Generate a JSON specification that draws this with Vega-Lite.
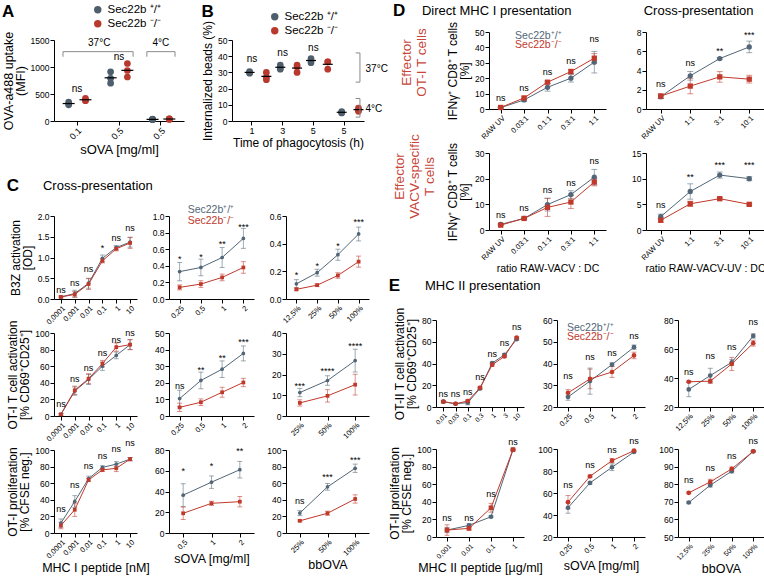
{
"$schema": "https://vega.github.io/schema/vega-lite/v6.json",
"padding": {"left": 2, "top": 2, "right": 0, "bottom": 0},
"config": {
 "font": "Liberation Sans",
 "view": {"stroke": null},
 "axis": {"domainColor": "#000", "tickColor": "#000", "tickSize": 4, "labelColor": "#000", "labelFontSize": 8.5, "labelPadding": 1, "titleColor": "#000", "titleFontSize": 12, "titleFontWeight": "normal", "titlePadding": 3, "titleLineHeight": 12, "grid": false},
 "axisX": {"labelAngle": -45, "labelFontSize": 7.5, "titleFontSize": 12.5, "titlePadding": 2},
 "title": {"fontSize": 17, "fontWeight": "bold", "anchor": "start", "offset": 6, "color": "#000", "subtitleFontSize": 13, "subtitleColor": "#000", "subtitlePadding": -15},
 "text": {"fontSize": 9}
},
"datasets": {
 "A": [
  {"d":"a","s":"WT","v":350},{"d":"a","s":"WT","v":320},{"d":"a","s":"WT","v":300},
  {"d":"a","s":"KO","v":420},{"d":"a","s":"KO","v":385},{"d":"a","s":"KO","v":375},
  {"d":"b","s":"WT","v":700},{"d":"b","s":"WT","v":910},{"d":"b","s":"WT","v":790},
  {"d":"b","s":"KO","v":1065},{"d":"b","s":"KO","v":815},{"d":"b","s":"KO","v":935},
  {"d":"c","s":"WT","v":25},{"d":"c","s":"WT","v":30},{"d":"c","s":"WT","v":35},
  {"d":"c","s":"KO","v":30},{"d":"c","s":"KO","v":38},{"d":"c","s":"KO","v":42}
 ],
 "AT": [
  {"d":"a","v":590,"t":"ns","k":"n"},{"d":"b","v":1190,"t":"ns","k":"n"},
  {"d":"a","v":1440,"t":"37°C","k":"L"},{"d":"c","v":1440,"t":"4°C","k":"n"}
 ],
 "AB": [
  {"l":"a","r":"b","v":1284,"v2":1190},{"l":"c","r":"c","v":1284,"v2":1190}
 ],
 "B": [
  {"d":"1","s":"WT","v":29.5},{"d":"1","s":"WT","v":30},{"d":"1","s":"WT","v":30.5},
  {"d":"1","s":"KO","v":25.5},{"d":"1","s":"KO","v":30},{"d":"1","s":"KO","v":27},
  {"d":"3","s":"WT","v":34.5},{"d":"3","s":"WT","v":32},{"d":"3","s":"WT","v":33},
  {"d":"3","s":"KO","v":30},{"d":"3","s":"KO","v":34.5},{"d":"3","s":"KO","v":33.5},
  {"d":"5","s":"WT","v":38.5},{"d":"5","s":"WT","v":36},{"d":"5","s":"WT","v":37.5},
  {"d":"5","s":"KO","v":32},{"d":"5","s":"KO","v":36.5},{"d":"5","s":"KO","v":36.5},
  {"d":"5b","s":"WT","v":5},{"d":"5b","s":"WT","v":5.8},{"d":"5b","s":"WT","v":5.3},
  {"d":"5b","s":"KO","v":6},{"d":"5b","s":"KO","v":7},{"d":"5b","s":"KO","v":8}
 ],
 "BT": [
  {"d":"1","v":38.2,"t":"ns"},{"d":"3","v":41.8,"t":"ns"},{"d":"5","v":44.9,"t":"ns"}
 ],
 "BB": [
  {"d":"5b","v":42,"v2":24,"lv":32,"t":"37°C"},{"d":"5b","v":13.9,"v2":2.4,"lv":7.5,"t":"4°C"}
 ],
 "L": [
  {"p":"C11","s":"WT","x":"0,0001","v":0.05,"e":0.02},{"p":"C11","s":"WT","x":"0,001","v":0.13,"e":0.08},{"p":"C11","s":"WT","x":"0,01","v":0.38,"e":0.12},{"p":"C11","s":"WT","x":"0,1","v":0.98,"e":0.08},{"p":"C11","s":"WT","x":"1","v":1.24,"e":0.05},{"p":"C11","s":"WT","x":"10","v":1.37,"e":0.12},
  {"p":"C11","s":"KO","x":"0,0001","v":0.05,"e":0.02},{"p":"C11","s":"KO","x":"0,001","v":0.11,"e":0.07},{"p":"C11","s":"KO","x":"0,01","v":0.36,"e":0.13},{"p":"C11","s":"KO","x":"0,1","v":0.92,"e":0.05},{"p":"C11","s":"KO","x":"1","v":1.21,"e":0.05},{"p":"C11","s":"KO","x":"10","v":1.35,"e":0.13},
  {"p":"C12","s":"WT","x":"0,25","v":0.33,"e":0.11},{"p":"C12","s":"WT","x":"0,5","v":0.38,"e":0.1},{"p":"C12","s":"WT","x":"1","v":0.5,"e":0.12},{"p":"C12","s":"WT","x":"2","v":0.73,"e":0.12},
  {"p":"C12","s":"KO","x":"0,25","v":0.14,"e":0.03},{"p":"C12","s":"KO","x":"0,5","v":0.18,"e":0.04},{"p":"C12","s":"KO","x":"1","v":0.26,"e":0.04},{"p":"C12","s":"KO","x":"2","v":0.38,"e":0.07},
  {"p":"C13","s":"WT","x":"12,5%","v":0.11,"e":0.03},{"p":"C13","s":"WT","x":"25%","v":0.19,"e":0.025},{"p":"C13","s":"WT","x":"50%","v":0.32,"e":0.04},{"p":"C13","s":"WT","x":"100%","v":0.47,"e":0.05},
  {"p":"C13","s":"KO","x":"12,5%","v":0.07,"e":0.01},{"p":"C13","s":"KO","x":"25%","v":0.1,"e":0.01},{"p":"C13","s":"KO","x":"50%","v":0.17,"e":0.02},{"p":"C13","s":"KO","x":"100%","v":0.27,"e":0.04},
  {"p":"C21","s":"WT","x":"0,0001","v":2,"e":1},{"p":"C21","s":"WT","x":"0,001","v":30,"e":5},{"p":"C21","s":"WT","x":"0,01","v":44,"e":6},{"p":"C21","s":"WT","x":"0,1","v":60,"e":5},{"p":"C21","s":"WT","x":"1","v":73,"e":4},{"p":"C21","s":"WT","x":"10","v":86,"e":6},
  {"p":"C21","s":"KO","x":"0,0001","v":2,"e":1},{"p":"C21","s":"KO","x":"0,001","v":31,"e":5},{"p":"C21","s":"KO","x":"0,01","v":45,"e":6},{"p":"C21","s":"KO","x":"0,1","v":63,"e":4},{"p":"C21","s":"KO","x":"1","v":83,"e":5},{"p":"C21","s":"KO","x":"10","v":86,"e":6},
  {"p":"C22","s":"WT","x":"0,25","v":10.5,"e":5},{"p":"C22","s":"WT","x":"0,5","v":21.4,"e":5},{"p":"C22","s":"WT","x":"1","v":28.2,"e":5},{"p":"C22","s":"WT","x":"2","v":37.7,"e":4.5},
  {"p":"C22","s":"KO","x":"0,25","v":5.2,"e":2.5},{"p":"C22","s":"KO","x":"0,5","v":8.3,"e":2},{"p":"C22","s":"KO","x":"1","v":14.3,"e":3},{"p":"C22","s":"KO","x":"2","v":20.2,"e":2.5},
  {"p":"C23","s":"WT","x":"25%","v":11.3,"e":2},{"p":"C23","s":"WT","x":"50%","v":17.1,"e":2.3},{"p":"C23","s":"WT","x":"100%","v":26.7,"e":5.5},
  {"p":"C23","s":"KO","x":"25%","v":6.3,"e":1.5},{"p":"C23","s":"KO","x":"50%","v":9.7,"e":3},{"p":"C23","s":"KO","x":"100%","v":15.1,"e":5},
  {"p":"C31","s":"WT","x":"0,0001","v":12,"e":5},{"p":"C31","s":"WT","x":"0,001","v":38,"e":7},{"p":"C31","s":"WT","x":"0,01","v":65.5,"e":3},{"p":"C31","s":"WT","x":"0,1","v":79,"e":2},{"p":"C31","s":"WT","x":"1","v":83,"e":3},{"p":"C31","s":"WT","x":"10","v":89,"e":2},
  {"p":"C31","s":"KO","x":"0,0001","v":9,"e":4},{"p":"C31","s":"KO","x":"0,001","v":28,"e":8},{"p":"C31","s":"KO","x":"0,01","v":64,"e":2},{"p":"C31","s":"KO","x":"0,1","v":76,"e":2},{"p":"C31","s":"KO","x":"1","v":78,"e":4},{"p":"C31","s":"KO","x":"10","v":89,"e":2},
  {"p":"C32","s":"WT","x":"0,5","v":36.5,"e":11},{"p":"C32","s":"WT","x":"1","v":49,"e":6},{"p":"C32","s":"WT","x":"2","v":61,"e":8},
  {"p":"C32","s":"KO","x":"0,5","v":19,"e":6},{"p":"C32","s":"KO","x":"1","v":28.6,"e":2},{"p":"C32","s":"KO","x":"2","v":30.2,"e":5},
  {"p":"C33","s":"WT","x":"25%","v":24,"e":3},{"p":"C33","s":"WT","x":"50%","v":55.6,"e":4},{"p":"C33","s":"WT","x":"100%","v":78,"e":5},
  {"p":"C33","s":"KO","x":"25%","v":14.7,"e":1},{"p":"C33","s":"KO","x":"50%","v":23.8,"e":2.5},{"p":"C33","s":"KO","x":"100%","v":41,"e":5},
  {"p":"D11","s":"WT","x":"RAW UV","v":0.9,"e":0.3},{"p":"D11","s":"WT","x":"0.03:1","v":5.9,"e":1},{"p":"D11","s":"WT","x":"0.1:1","v":14.1,"e":2.5},{"p":"D11","s":"WT","x":"0.3:1","v":20,"e":2.5},{"p":"D11","s":"WT","x":"1:1","v":30.4,"e":7},
  {"p":"D11","s":"KO","x":"RAW UV","v":1,"e":0.3},{"p":"D11","s":"KO","x":"0.03:1","v":7.2,"e":0.7},{"p":"D11","s":"KO","x":"0.1:1","v":17.4,"e":0.7},{"p":"D11","s":"KO","x":"0.3:1","v":24.3,"e":1.5},{"p":"D11","s":"KO","x":"1:1","v":33,"e":3},
  {"p":"D12","s":"WT","x":"RAW UV","v":1.28,"e":0.2},{"p":"D12","s":"WT","x":"1:1","v":3.45,"e":0.45},{"p":"D12","s":"WT","x":"3:1","v":5.24,"e":0.1},{"p":"D12","s":"WT","x":"10:1","v":6.45,"e":0.6},
  {"p":"D12","s":"KO","x":"RAW UV","v":1.34,"e":0.25},{"p":"D12","s":"KO","x":"1:1","v":2.38,"e":0.8},{"p":"D12","s":"KO","x":"3:1","v":3.34,"e":0.55},{"p":"D12","s":"KO","x":"10:1","v":3.1,"e":0.4},
  {"p":"D21","s":"WT","x":"RAW UV","v":2.2,"e":0.3},{"p":"D21","s":"WT","x":"0.03:1","v":4.5,"e":0.3},{"p":"D21","s":"WT","x":"0.1:1","v":9.9,"e":2.5},{"p":"D21","s":"WT","x":"0.3:1","v":13.8,"e":1.5},{"p":"D21","s":"WT","x":"1:1","v":20.6,"e":3},
  {"p":"D21","s":"KO","x":"RAW UV","v":1.9,"e":0.3},{"p":"D21","s":"KO","x":"0.03:1","v":4.5,"e":0.3},{"p":"D21","s":"KO","x":"0.1:1","v":8.8,"e":3.5},{"p":"D21","s":"KO","x":"0.3:1","v":10.9,"e":2.5},{"p":"D21","s":"KO","x":"1:1","v":18.7,"e":1.5},
  {"p":"D22","s":"WT","x":"RAW UV","v":2.6,"e":0.5},{"p":"D22","s":"WT","x":"1:1","v":7.5,"e":1.5},{"p":"D22","s":"WT","x":"3:1","v":10.7,"e":0.6},{"p":"D22","s":"WT","x":"10:1","v":10,"e":0.4},
  {"p":"D22","s":"KO","x":"RAW UV","v":1.9,"e":0.4},{"p":"D22","s":"KO","x":"1:1","v":5.1,"e":0.5},{"p":"D22","s":"KO","x":"3:1","v":6.1,"e":0.2},{"p":"D22","s":"KO","x":"10:1","v":5,"e":0.2},
  {"p":"E11","s":"WT","x":"0,01","v":4.9,"e":1},{"p":"E11","s":"WT","x":"0,03","v":3,"e":0.5},{"p":"E11","s":"WT","x":"0,1","v":4,"e":2},{"p":"E11","s":"WT","x":"0,3","v":17,"e":1},{"p":"E11","s":"WT","x":"1","v":40.4,"e":1},{"p":"E11","s":"WT","x":"3","v":48,"e":1},{"p":"E11","s":"WT","x":"10","v":62.3,"e":1},
  {"p":"E11","s":"KO","x":"0,01","v":4.9,"e":1},{"p":"E11","s":"KO","x":"0,03","v":3,"e":0.5},{"p":"E11","s":"KO","x":"0,1","v":5.5,"e":1.5},{"p":"E11","s":"KO","x":"0,3","v":17.6,"e":1.5},{"p":"E11","s":"KO","x":"1","v":38.9,"e":1.5},{"p":"E11","s":"KO","x":"3","v":46.5,"e":1},{"p":"E11","s":"KO","x":"10","v":63.8,"e":1},
  {"p":"E12","s":"WT","x":"0,25","v":24.6,"e":1.5},{"p":"E12","s":"WT","x":"0,5","v":31.9,"e":6},{"p":"E12","s":"WT","x":"1","v":39.5,"e":0.8},{"p":"E12","s":"WT","x":"2","v":47.5,"e":1},
  {"p":"E12","s":"KO","x":"0,25","v":26.5,"e":1.5},{"p":"E12","s":"KO","x":"0,5","v":32.9,"e":4.5},{"p":"E12","s":"KO","x":"1","v":36.1,"e":2.5},{"p":"E12","s":"KO","x":"2","v":43.7,"e":1.5},
  {"p":"E13","s":"WT","x":"12,5%","v":32.1,"e":5},{"p":"E13","s":"WT","x":"25%","v":41.7,"e":5},{"p":"E13","s":"WT","x":"50%","v":50.8,"e":2},{"p":"E13","s":"WT","x":"100%","v":69,"e":1.5},
  {"p":"E13","s":"KO","x":"12,5%","v":37.4,"e":0.5},{"p":"E13","s":"KO","x":"25%","v":37.8,"e":1.5},{"p":"E13","s":"KO","x":"50%","v":49.7,"e":4.5},{"p":"E13","s":"KO","x":"100%","v":64,"e":2},
  {"p":"E21","s":"WT","x":"0,001","v":7.9,"e":3},{"p":"E21","s":"WT","x":"0,01","v":13.2,"e":2},{"p":"E21","s":"WT","x":"0,1","v":23,"e":1},{"p":"E21","s":"WT","x":"1","v":99.2,"e":0.5},
  {"p":"E21","s":"KO","x":"0,001","v":7.9,"e":6},{"p":"E21","s":"KO","x":"0,01","v":9.8,"e":2},{"p":"E21","s":"KO","x":"0,1","v":33.2,"e":5},{"p":"E21","s":"KO","x":"1","v":99.2,"e":0.5},
  {"p":"E22","s":"WT","x":"0,25","v":46.6,"e":5},{"p":"E22","s":"WT","x":"0,5","v":69.2,"e":1},{"p":"E22","s":"WT","x":"1","v":83.4,"e":3},{"p":"E22","s":"WT","x":"2","v":97.3,"e":0.5},
  {"p":"E22","s":"KO","x":"0,25","v":51.7,"e":6},{"p":"E22","s":"KO","x":"0,5","v":75.2,"e":1},{"p":"E22","s":"KO","x":"1","v":89.4,"e":2},{"p":"E22","s":"KO","x":"2","v":98.5,"e":0.5},
  {"p":"E23","s":"WT","x":"12,5%","v":69.6,"e":0.5},{"p":"E23","s":"WT","x":"25%","v":79.4,"e":1},{"p":"E23","s":"WT","x":"50%","v":87.4,"e":1},{"p":"E23","s":"WT","x":"100%","v":98.7,"e":0.5},
  {"p":"E23","s":"KO","x":"12,5%","v":75.1,"e":0.5},{"p":"E23","s":"KO","x":"25%","v":81.3,"e":1.5},{"p":"E23","s":"KO","x":"50%","v":88.7,"e":1},{"p":"E23","s":"KO","x":"100%","v":98.7,"e":0.5}
 ],
 "T": [
  {"p":"C11","x":"0,0001","v":0.22,"t":"ns"},{"p":"C11","x":"0,001","v":0.38,"t":"ns"},{"p":"C11","x":"0,01","v":0.72,"t":"ns"},{"p":"C11","x":"0,1","v":1.22,"t":"*"},{"p":"C11","x":"1","v":1.47,"t":"ns"},{"p":"C11","x":"10","v":1.72,"t":"ns"},
  {"p":"C12","x":"0,25","v":0.48,"t":"*"},{"p":"C12","x":"0,5","v":0.51,"t":"*"},{"p":"C12","x":"1","v":0.66,"t":"**"},{"p":"C12","x":"2","v":0.87,"t":"***"},
  {"p":"C13","x":"12,5%","v":0.17,"t":"*"},{"p":"C13","x":"25%","v":0.24,"t":"*"},{"p":"C13","x":"50%","v":0.38,"t":"*"},{"p":"C13","x":"100%","v":0.56,"t":"***"},
  {"p":"C21","x":"0,0001","v":15,"t":"ns"},{"p":"C21","x":"0,001","v":44,"t":"ns"},{"p":"C21","x":"0,01","v":57.5,"t":"ns"},{"p":"C21","x":"0,1","v":76,"t":"ns"},{"p":"C21","x":"1","v":92,"t":"ns"},{"p":"C21","x":"10","v":100,"t":"ns"},
  {"p":"C22","x":"0,25","v":18.3,"t":"ns"},{"p":"C22","x":"0,5","v":28,"t":"**"},{"p":"C22","x":"1","v":35,"t":"**"},{"p":"C22","x":"2","v":44.5,"t":"***"},
  {"p":"C23","x":"25%","v":14.6,"t":"***"},{"p":"C23","x":"50%","v":21.6,"t":"****"},{"p":"C23","x":"100%","v":33.6,"t":"****"},
  {"p":"C31","x":"0,0001","v":28.6,"t":"ns"},{"p":"C31","x":"0,001","v":57.5,"t":"ns"},{"p":"C31","x":"0,01","v":81,"t":"ns"},{"p":"C31","x":"0,1","v":93,"t":"ns"},{"p":"C31","x":"1","v":101,"t":"ns"},{"p":"C31","x":"10","v":109,"t":"ns"},
  {"p":"C32","x":"0,5","v":60,"t":"*"},{"p":"C32","x":"1","v":65,"t":"*"},{"p":"C32","x":"2","v":79,"t":"**"},
  {"p":"C33","x":"25%","v":38.5,"t":"ns"},{"p":"C33","x":"50%","v":67,"t":"***"},{"p":"C33","x":"100%","v":88,"t":"***"},
  {"p":"D11","x":"RAW UV","v":7,"t":"ns"},{"p":"D11","x":"0.03:1","v":13.5,"t":"ns"},{"p":"D11","x":"0.1:1","v":23.9,"t":"ns"},{"p":"D11","x":"0.3:1","v":31,"t":"ns"},{"p":"D11","x":"1:1","v":45.2,"t":"ns"},
  {"p":"D12","x":"RAW UV","v":2.55,"t":"ns"},{"p":"D12","x":"1:1","v":4.8,"t":"ns"},{"p":"D12","x":"3:1","v":6.05,"t":"**"},{"p":"D12","x":"10:1","v":7.65,"t":"***"},
  {"p":"D21","x":"RAW UV","v":6,"t":"ns"},{"p":"D21","x":"0.03:1","v":8.4,"t":"ns"},{"p":"D21","x":"0.1:1","v":15.7,"t":"ns"},{"p":"D21","x":"0.3:1","v":18.3,"t":"ns"},{"p":"D21","x":"1:1","v":26.7,"t":"ns"},
  {"p":"D22","x":"RAW UV","v":4.8,"t":"ns"},{"p":"D22","x":"1:1","v":10.3,"t":"**"},{"p":"D22","x":"3:1","v":12.6,"t":"***"},{"p":"D22","x":"10:1","v":12.6,"t":"***"},
  {"p":"E11","x":"0,01","v":12,"t":"ns"},{"p":"E11","x":"0,03","v":12,"t":"ns"},{"p":"E11","x":"0,1","v":14,"t":"ns"},{"p":"E11","x":"0,3","v":27.4,"t":"ns"},{"p":"E11","x":"1","v":48.6,"t":"ns"},{"p":"E11","x":"3","v":58.7,"t":"ns"},{"p":"E11","x":"10","v":74,"t":"ns"},
  {"p":"E12","x":"0,25","v":34.1,"t":"ns"},{"p":"E12","x":"0,5","v":42.8,"t":"ns"},{"p":"E12","x":"1","v":44.8,"t":"ns"},{"p":"E12","x":"2","v":52.7,"t":"ns"},
  {"p":"E13","x":"12,5%","v":44,"t":"ns"},{"p":"E13","x":"25%","v":55.5,"t":"ns"},{"p":"E13","x":"50%","v":61.3,"t":"ns"},{"p":"E13","x":"100%","v":78.4,"t":"ns"},
  {"p":"E21","x":"0,001","v":21.9,"t":"ns"},{"p":"E21","x":"0,01","v":21.9,"t":"ns"},{"p":"E21","x":"0,1","v":48.3,"t":"ns"},{"p":"E21","x":"1","v":107.5,"t":"ns"},
  {"p":"E22","x":"0,25","v":67.7,"t":"ns"},{"p":"E22","x":"0,5","v":85.8,"t":"ns"},{"p":"E22","x":"1","v":99.4,"t":"ns"},{"p":"E22","x":"2","v":107.5,"t":"ns"},
  {"p":"E23","x":"12,5%","v":82.6,"t":"ns"},{"p":"E23","x":"25%","v":89.2,"t":"ns"},{"p":"E23","x":"50%","v":95.8,"t":"ns"},{"p":"E23","x":"100%","v":104.7,"t":"ns"}
 ],
 "G": [
  {"p":"C12","x":"0,25","v":1.07,"s":"WT","t":"Sec22b⁺/⁺"},{"p":"C12","x":"0,25","v":0.94,"s":"KO","t":"Sec22b⁻/⁻"},
  {"p":"D11","x":"0.03:1","v":47.4,"s":"WT","t":"Sec22b⁺/⁺"},{"p":"D11","x":"0.03:1","v":41.7,"s":"KO","t":"Sec22b⁻/⁻"},
  {"p":"E12","x":"0,25","v":56.3,"s":"WT","t":"Sec22b⁺/⁺"},{"p":"E12","x":"0,25","v":52.4,"s":"KO","t":"Sec22b⁻/⁻"}
 ],
 "Z": [{"z": 0}]
},
"resolve": {"scale": {"color": "independent", "shape": "independent"}, "legend": {"color": "independent", "shape": "independent"}},
"columns": 2, "align": "none", "spacing": 0,
"concat": [
 {"resolve": {"scale": {"color": "independent", "shape": "independent"}, "legend": {"color": "independent", "shape": "independent"}},
  "columns": 1, "align": "none", "spacing": 20,
  "concat": [
   {"resolve": {"scale": {"color": "independent", "shape": "independent"}, "legend": {"color": "independent", "shape": "independent"}},
    "bounds": "flush", "columns": 2, "spacing": {"row": 7, "column": 48},
    "concat": [
     {"width": 130, "height": 1, "data": {"name": "Z"}, "mark": {"type": "text", "text": ""}, "encoding": {}},
     {"width": 132, "height": 1, "data": {"name": "Z"}, "mark": {"type": "text", "text": ""}, "encoding": {}},
     {"width": 130, "height": 81,
      "title": {"text": "A", "dy": 17, "offset": 0},
      "encoding": {
       "x": {"field": "d", "type": "nominal", "scale": {"domain": ["a","b","c"], "paddingInner": 0.2, "paddingOuter": 0.15}, "axis": {"title": "sOVA [mg/ml]", "titleFontSize": 13, "labelFontSize": 9, "labelExpr": "datum.value == 'a' ? '0.1' : '0.5'"}},
       "y": {"field": "v", "type": "quantitative", "scale": {"domain": [0,1500], "nice": false}, "axis": {"title": ["OVA-a488 uptake","(MFI)"], "values": [0,500,1000,1500], "format": "d", "titleFontSize": 12.5}}
      },
      "layer": [
       {"data": {"name": "AB"}, "mark": {"type": "rule", "color": "#8a8a8a"}, "encoding": {"x": {"field": "l", "type": "nominal", "bandPosition": 0.08}, "x2": {"field": "r", "bandPosition": 0.92}}},
       {"data": {"name": "AB"}, "mark": {"type": "rule", "color": "#8a8a8a"}, "encoding": {"x": {"field": "l", "type": "nominal", "bandPosition": 0.08}, "y2": {"field": "v2"}}},
       {"data": {"name": "AB"}, "mark": {"type": "rule", "color": "#8a8a8a"}, "encoding": {"x": {"field": "r", "type": "nominal", "bandPosition": 0.92}, "y2": {"field": "v2"}}},
       {"data": {"name": "A"}, "mark": {"type": "point", "filled": true, "opacity": 1, "size": 45},
        "encoding": {"xOffset": {"field": "s", "type": "nominal", "scale": {"domain": ["WT","KO"]}},
         "color": {"field": "s", "type": "nominal", "scale": {"domain": ["WT","KO"], "range": ["#4e5e6c","#b83a2f"]},
          "legend": {"title": null, "orient": "none", "legendX": 38, "legendY": -36, "direction": "vertical", "symbolType": "circle", "symbolSize": 55, "labelFontSize": 11.5, "rowPadding": 1, "padding": 0, "labelExpr": "datum.value == 'WT' ? 'Sec22b ⁺/⁺' : 'Sec22b ⁻/⁻'"}}}},
       {"data": {"name": "A"}, "mark": {"type": "tick", "color": "#000", "size": 12, "thickness": 1.2},
        "encoding": {"xOffset": {"field": "s", "type": "nominal", "scale": {"domain": ["WT","KO"]}}, "y": {"aggregate": "mean", "field": "v", "type": "quantitative"}}},
       {"data": {"name": "AT"}, "transform": [{"filter": "datum.k == 'n'"}], "mark": {"type": "text", "fontSize": 10}, "encoding": {"text": {"field": "t"}}},
       {"data": {"name": "AT"}, "transform": [{"filter": "datum.k == 'L'"}], "mark": {"type": "text", "fontSize": 10}, "encoding": {"x": {"field": "d", "type": "nominal", "bandPosition": 1.16}, "text": {"field": "t"}}}
      ]
     },
     {"width": 132, "height": 81,
      "title": {"text": "B", "dy": 10, "offset": 0},
      "encoding": {
       "x": {"field": "d", "type": "nominal", "scale": {"domain": ["1","3","5","5b"], "paddingInner": 0.3, "paddingOuter": 0.3}, "axis": {"title": "Time of phagocytosis (h)", "titleFontSize": 12, "labelAngle": 0, "labelFontSize": 9, "labelExpr": "datum.value == '5b' ? '5' : datum.value"}},
       "y": {"field": "v", "type": "quantitative", "scale": {"domain": [0,50], "nice": false}, "axis": {"title": "Internalized beads (%)", "values": [0,10,20,30,40,50]}}
      },
      "layer": [
       {"data": {"name": "B"}, "mark": {"type": "point", "filled": true, "opacity": 1, "size": 45},
        "encoding": {"xOffset": {"field": "s", "type": "nominal", "scale": {"domain": ["WT","KO"]}},
         "color": {"field": "s", "type": "nominal", "scale": {"domain": ["WT","KO"], "range": ["#4e5e6c","#b83a2f"]},
          "legend": {"title": null, "orient": "none", "legendX": 37, "legendY": -29, "direction": "vertical", "symbolType": "circle", "symbolSize": 55, "labelFontSize": 11.5, "rowPadding": 1, "padding": 0, "labelExpr": "datum.value == 'WT' ? 'Sec22b ⁺/⁺' : 'Sec22b ⁻/⁻'"}}}},
       {"data": {"name": "B"}, "mark": {"type": "tick", "color": "#000", "size": 10, "thickness": 1.2},
        "encoding": {"xOffset": {"field": "s", "type": "nominal", "scale": {"domain": ["WT","KO"]}}, "y": {"aggregate": "mean", "field": "v", "type": "quantitative"}}},
       {"data": {"name": "BT"}, "mark": {"type": "text", "fontSize": 10}, "encoding": {"text": {"field": "t"}}},
       {"data": {"name": "BB"}, "mark": {"type": "rule", "color": "#8a8a8a"}, "encoding": {"x": {"field": "d", "type": "nominal", "bandPosition": 1.24}, "y2": {"field": "v2"}}},
       {"data": {"name": "BB"}, "mark": {"type": "rule", "color": "#8a8a8a"}, "encoding": {"x": {"field": "d", "type": "nominal", "bandPosition": 1.04}, "x2": {"field": "d", "bandPosition": 1.24}}},
       {"data": {"name": "BB"}, "mark": {"type": "rule", "color": "#8a8a8a"}, "encoding": {"x": {"field": "d", "type": "nominal", "bandPosition": 1.04}, "x2": {"field": "d", "bandPosition": 1.24}, "y": {"field": "v2", "type": "quantitative"}}},
       {"data": {"name": "BB"}, "mark": {"type": "text", "align": "left", "fontSize": 10}, "encoding": {"x": {"field": "d", "type": "nominal", "bandPosition": 1.5}, "y": {"field": "lv", "type": "quantitative"}, "text": {"field": "t"}}}
      ]
     }
    ]
   },
   {"resolve": {"scale": {"color": "independent", "shape": "independent"}, "legend": {"color": "independent", "shape": "independent"}},
    "bounds": "flush", "columns": 3, "spacing": {"row": 34, "column": 32},
    "title": {"text": "C", "subtitle": "\u200b\u00a0\u00a0\u00a0\u00a0\u00a0\u00a0\u00a0\u00a0\u00a0\u00a0Cross-presentation", "offset": 10},
    "concat": [
     {"width": 83, "height": 83,
      "encoding": {"x": {"field": "x", "type": "ordinal", "sort": ["0,0001","0,001","0,01","0,1","1","10"], "scale": {"type": "point", "domain": ["0,0001","0,001","0,01","0,1","1","10"], "padding": 0.5}, "axis": {"title": null}},
       "y": {"field": "v", "type": "quantitative", "scale": {"domain": [0,2], "nice": false, "zero": false}, "axis": {"title": ["B3Z activation","[OD]"], "values": [0,0.5,1,1.5,2], "format": ".1f"}}},
      "layer": [
       {"data": {"name": "L"}, "transform": [{"filter": "datum.p == 'C11'"}], "mark": {"type": "errorbar", "ticks": {"size": 5}, "thickness": 1, "opacity": 0.55}, "encoding": {"yError": {"field": "e"}, "color": {"field": "s", "type": "nominal", "scale": {"domain": ["WT","KO"], "range": ["#526677","#c0392b"]}, "legend": null}}},
       {"data": {"name": "L"}, "transform": [{"filter": "datum.p == 'C11'"}], "mark": {"type": "line", "strokeWidth": 1}, "encoding": {"color": {"field": "s", "type": "nominal", "legend": null}}},
       {"data": {"name": "L"}, "transform": [{"filter": "datum.p == 'C11'"}], "mark": {"type": "point", "filled": true, "opacity": 1, "size": 14}, "encoding": {"color": {"field": "s", "type": "nominal", "legend": null}, "shape": {"field": "s", "type": "nominal", "scale": {"domain": ["WT","KO"], "range": ["circle","square"]}, "legend": null}}},
       {"data": {"name": "T"}, "transform": [{"filter": "datum.p == 'C11'"}], "mark": {"type": "text"}, "encoding": {"text": {"field": "t"}}}
      ]},
     {"width": 85, "height": 83,
      "encoding": {"x": {"field": "x", "type": "ordinal", "sort": ["0,25","0,5","1","2"], "scale": {"type": "point", "domain": ["0,25","0,5","1","2"], "padding": 0.5}, "axis": {"title": null}},
       "y": {"field": "v", "type": "quantitative", "scale": {"domain": [0,1], "nice": false, "zero": false}, "axis": {"title": null, "values": [0,0.2,0.4,0.6,0.8,1], "format": ".1f"}}},
      "layer": [
       {"data": {"name": "L"}, "transform": [{"filter": "datum.p == 'C12'"}], "mark": {"type": "errorbar", "ticks": {"size": 5}, "thickness": 1, "opacity": 0.55}, "encoding": {"yError": {"field": "e"}, "color": {"field": "s", "type": "nominal", "scale": {"domain": ["WT","KO"], "range": ["#526677","#c0392b"]}, "legend": null}}},
       {"data": {"name": "L"}, "transform": [{"filter": "datum.p == 'C12'"}], "mark": {"type": "line", "strokeWidth": 1}, "encoding": {"color": {"field": "s", "type": "nominal", "legend": null}}},
       {"data": {"name": "L"}, "transform": [{"filter": "datum.p == 'C12'"}], "mark": {"type": "point", "filled": true, "opacity": 1, "size": 14}, "encoding": {"color": {"field": "s", "type": "nominal", "legend": null}, "shape": {"field": "s", "type": "nominal", "scale": {"domain": ["WT","KO"], "range": ["circle","square"]}, "legend": null}}},
       {"data": {"name": "T"}, "transform": [{"filter": "datum.p == 'C12'"}], "mark": {"type": "text"}, "encoding": {"text": {"field": "t"}}},
       {"data": {"name": "G"}, "transform": [{"filter": "datum.p == 'C12'"}], "mark": {"type": "text", "align": "left", "dx": 8, "fontSize": 10.5}, "encoding": {"text": {"field": "t"}, "color": {"field": "s", "type": "nominal", "legend": null}}}
      ]},
     {"width": 83, "height": 83,
      "encoding": {"x": {"field": "x", "type": "ordinal", "sort": ["12,5%","25%","50%","100%"], "scale": {"type": "point", "domain": ["12,5%","25%","50%","100%"], "padding": 0.5}, "axis": {"title": null}},
       "y": {"field": "v", "type": "quantitative", "scale": {"domain": [0,0.6], "nice": false, "zero": false}, "axis": {"title": null, "values": [0,0.2,0.4,0.6], "format": ".1f"}}},
      "layer": [
       {"data": {"name": "L"}, "transform": [{"filter": "datum.p == 'C13'"}], "mark": {"type": "errorbar", "ticks": {"size": 5}, "thickness": 1, "opacity": 0.55}, "encoding": {"yError": {"field": "e"}, "color": {"field": "s", "type": "nominal", "scale": {"domain": ["WT","KO"], "range": ["#526677","#c0392b"]}, "legend": null}}},
       {"data": {"name": "L"}, "transform": [{"filter": "datum.p == 'C13'"}], "mark": {"type": "line", "strokeWidth": 1}, "encoding": {"color": {"field": "s", "type": "nominal", "legend": null}}},
       {"data": {"name": "L"}, "transform": [{"filter": "datum.p == 'C13'"}], "mark": {"type": "point", "filled": true, "opacity": 1, "size": 14}, "encoding": {"color": {"field": "s", "type": "nominal", "legend": null}, "shape": {"field": "s", "type": "nominal", "scale": {"domain": ["WT","KO"], "range": ["circle","square"]}, "legend": null}}},
       {"data": {"name": "T"}, "transform": [{"filter": "datum.p == 'C13'"}], "mark": {"type": "text"}, "encoding": {"text": {"field": "t"}}}
      ]},
     {"width": 83, "height": 83,
      "encoding": {"x": {"field": "x", "type": "ordinal", "sort": ["0,0001","0,001","0,01","0,1","1","10"], "scale": {"type": "point", "domain": ["0,0001","0,001","0,01","0,1","1","10"], "padding": 0.5}, "axis": {"title": null}},
       "y": {"field": "v", "type": "quantitative", "scale": {"domain": [0,100], "nice": false, "zero": false}, "axis": {"title": ["OT-I T cell activation","[% CD69⁺CD25⁺]"], "values": [0,20,40,60,80,100]}}},
      "layer": [
       {"data": {"name": "L"}, "transform": [{"filter": "datum.p == 'C21'"}], "mark": {"type": "errorbar", "ticks": {"size": 5}, "thickness": 1, "opacity": 0.55}, "encoding": {"yError": {"field": "e"}, "color": {"field": "s", "type": "nominal", "scale": {"domain": ["WT","KO"], "range": ["#526677","#c0392b"]}, "legend": null}}},
       {"data": {"name": "L"}, "transform": [{"filter": "datum.p == 'C21'"}], "mark": {"type": "line", "strokeWidth": 1}, "encoding": {"color": {"field": "s", "type": "nominal", "legend": null}}},
       {"data": {"name": "L"}, "transform": [{"filter": "datum.p == 'C21'"}], "mark": {"type": "point", "filled": true, "opacity": 1, "size": 14}, "encoding": {"color": {"field": "s", "type": "nominal", "legend": null}, "shape": {"field": "s", "type": "nominal", "scale": {"domain": ["WT","KO"], "range": ["circle","square"]}, "legend": null}}},
       {"data": {"name": "T"}, "transform": [{"filter": "datum.p == 'C21'"}], "mark": {"type": "text"}, "encoding": {"text": {"field": "t"}}}
      ]},
     {"width": 85, "height": 83,
      "encoding": {"x": {"field": "x", "type": "ordinal", "sort": ["0,25","0,5","1","2"], "scale": {"type": "point", "domain": ["0,25","0,5","1","2"], "padding": 0.5}, "axis": {"title": null}},
       "y": {"field": "v", "type": "quantitative", "scale": {"domain": [0,50], "nice": false, "zero": false}, "axis": {"title": null, "values": [0,10,20,30,40,50]}}},
      "layer": [
       {"data": {"name": "L"}, "transform": [{"filter": "datum.p == 'C22'"}], "mark": {"type": "errorbar", "ticks": {"size": 5}, "thickness": 1, "opacity": 0.55}, "encoding": {"yError": {"field": "e"}, "color": {"field": "s", "type": "nominal", "scale": {"domain": ["WT","KO"], "range": ["#526677","#c0392b"]}, "legend": null}}},
       {"data": {"name": "L"}, "transform": [{"filter": "datum.p == 'C22'"}], "mark": {"type": "line", "strokeWidth": 1}, "encoding": {"color": {"field": "s", "type": "nominal", "legend": null}}},
       {"data": {"name": "L"}, "transform": [{"filter": "datum.p == 'C22'"}], "mark": {"type": "point", "filled": true, "opacity": 1, "size": 14}, "encoding": {"color": {"field": "s", "type": "nominal", "legend": null}, "shape": {"field": "s", "type": "nominal", "scale": {"domain": ["WT","KO"], "range": ["circle","square"]}, "legend": null}}},
       {"data": {"name": "T"}, "transform": [{"filter": "datum.p == 'C22'"}], "mark": {"type": "text"}, "encoding": {"text": {"field": "t"}}}
      ]},
     {"width": 83, "height": 83,
      "encoding": {"x": {"field": "x", "type": "ordinal", "sort": ["25%","50%","100%"], "scale": {"type": "point", "domain": ["25%","50%","100%"], "padding": 0.5}, "axis": {"title": null}},
       "y": {"field": "v", "type": "quantitative", "scale": {"domain": [0,40], "nice": false, "zero": false}, "axis": {"title": null, "values": [0,10,20,30,40]}}},
      "layer": [
       {"data": {"name": "L"}, "transform": [{"filter": "datum.p == 'C23'"}], "mark": {"type": "errorbar", "ticks": {"size": 5}, "thickness": 1, "opacity": 0.55}, "encoding": {"yError": {"field": "e"}, "color": {"field": "s", "type": "nominal", "scale": {"domain": ["WT","KO"], "range": ["#526677","#c0392b"]}, "legend": null}}},
       {"data": {"name": "L"}, "transform": [{"filter": "datum.p == 'C23'"}], "mark": {"type": "line", "strokeWidth": 1}, "encoding": {"color": {"field": "s", "type": "nominal", "legend": null}}},
       {"data": {"name": "L"}, "transform": [{"filter": "datum.p == 'C23'"}], "mark": {"type": "point", "filled": true, "opacity": 1, "size": 14}, "encoding": {"color": {"field": "s", "type": "nominal", "legend": null}, "shape": {"field": "s", "type": "nominal", "scale": {"domain": ["WT","KO"], "range": ["circle","square"]}, "legend": null}}},
       {"data": {"name": "T"}, "transform": [{"filter": "datum.p == 'C23'"}], "mark": {"type": "text"}, "encoding": {"text": {"field": "t"}}}
      ]},
     {"width": 83, "height": 83,
      "encoding": {"x": {"field": "x", "type": "ordinal", "sort": ["0,0001","0,001","0,01","0,1","1","10"], "scale": {"type": "point", "domain": ["0,0001","0,001","0,01","0,1","1","10"], "padding": 0.5}, "axis": {"title": "MHC I peptide [nM]"}},
       "y": {"field": "v", "type": "quantitative", "scale": {"domain": [0,100], "nice": false, "zero": false}, "axis": {"title": ["OT-I proliferation","[% CFSE neg.]"], "values": [0,20,40,60,80,100]}}},
      "layer": [
       {"data": {"name": "L"}, "transform": [{"filter": "datum.p == 'C31'"}], "mark": {"type": "errorbar", "ticks": {"size": 5}, "thickness": 1, "opacity": 0.55}, "encoding": {"yError": {"field": "e"}, "color": {"field": "s", "type": "nominal", "scale": {"domain": ["WT","KO"], "range": ["#526677","#c0392b"]}, "legend": null}}},
       {"data": {"name": "L"}, "transform": [{"filter": "datum.p == 'C31'"}], "mark": {"type": "line", "strokeWidth": 1}, "encoding": {"color": {"field": "s", "type": "nominal", "legend": null}}},
       {"data": {"name": "L"}, "transform": [{"filter": "datum.p == 'C31'"}], "mark": {"type": "point", "filled": true, "opacity": 1, "size": 14}, "encoding": {"color": {"field": "s", "type": "nominal", "legend": null}, "shape": {"field": "s", "type": "nominal", "scale": {"domain": ["WT","KO"], "range": ["circle","square"]}, "legend": null}}},
       {"data": {"name": "T"}, "transform": [{"filter": "datum.p == 'C31'"}], "mark": {"type": "text"}, "encoding": {"text": {"field": "t"}}}
      ]},
     {"width": 85, "height": 83,
      "encoding": {"x": {"field": "x", "type": "ordinal", "sort": ["0,5","1","2"], "scale": {"type": "point", "domain": ["0,5","1","2"], "padding": 0.5}, "axis": {"title": "sOVA [mg/ml]"}},
       "y": {"field": "v", "type": "quantitative", "scale": {"domain": [0,80], "nice": false, "zero": false}, "axis": {"title": null, "values": [0,20,40,60,80]}}},
      "layer": [
       {"data": {"name": "L"}, "transform": [{"filter": "datum.p == 'C32'"}], "mark": {"type": "errorbar", "ticks": {"size": 5}, "thickness": 1, "opacity": 0.55}, "encoding": {"yError": {"field": "e"}, "color": {"field": "s", "type": "nominal", "scale": {"domain": ["WT","KO"], "range": ["#526677","#c0392b"]}, "legend": null}}},
       {"data": {"name": "L"}, "transform": [{"filter": "datum.p == 'C32'"}], "mark": {"type": "line", "strokeWidth": 1}, "encoding": {"color": {"field": "s", "type": "nominal", "legend": null}}},
       {"data": {"name": "L"}, "transform": [{"filter": "datum.p == 'C32'"}], "mark": {"type": "point", "filled": true, "opacity": 1, "size": 14}, "encoding": {"color": {"field": "s", "type": "nominal", "legend": null}, "shape": {"field": "s", "type": "nominal", "scale": {"domain": ["WT","KO"], "range": ["circle","square"]}, "legend": null}}},
       {"data": {"name": "T"}, "transform": [{"filter": "datum.p == 'C32'"}], "mark": {"type": "text"}, "encoding": {"text": {"field": "t"}}}
      ]},
     {"width": 83, "height": 83,
      "encoding": {"x": {"field": "x", "type": "ordinal", "sort": ["25%","50%","100%"], "scale": {"type": "point", "domain": ["25%","50%","100%"], "padding": 0.5}, "axis": {"title": "bbOVA"}},
       "y": {"field": "v", "type": "quantitative", "scale": {"domain": [0,100], "nice": false, "zero": false}, "axis": {"title": null, "values": [0,20,40,60,80,100]}}},
      "layer": [
       {"data": {"name": "L"}, "transform": [{"filter": "datum.p == 'C33'"}], "mark": {"type": "errorbar", "ticks": {"size": 5}, "thickness": 1, "opacity": 0.55}, "encoding": {"yError": {"field": "e"}, "color": {"field": "s", "type": "nominal", "scale": {"domain": ["WT","KO"], "range": ["#526677","#c0392b"]}, "legend": null}}},
       {"data": {"name": "L"}, "transform": [{"filter": "datum.p == 'C33'"}], "mark": {"type": "line", "strokeWidth": 1}, "encoding": {"color": {"field": "s", "type": "nominal", "legend": null}}},
       {"data": {"name": "L"}, "transform": [{"filter": "datum.p == 'C33'"}], "mark": {"type": "point", "filled": true, "opacity": 1, "size": 14}, "encoding": {"color": {"field": "s", "type": "nominal", "legend": null}, "shape": {"field": "s", "type": "nominal", "scale": {"domain": ["WT","KO"], "range": ["circle","square"]}, "legend": null}}},
       {"data": {"name": "T"}, "transform": [{"filter": "datum.p == 'C33'"}], "mark": {"type": "text"}, "encoding": {"text": {"field": "t"}}}
      ]}
    ]
   }
  ]
 },
 {"resolve": {"scale": {"color": "independent", "shape": "independent"}, "legend": {"color": "independent", "shape": "independent"}},
  "columns": 1, "align": "none", "spacing": 3,
  "concat": [
   {"resolve": {"scale": {"color": "independent", "shape": "independent"}, "legend": {"color": "independent", "shape": "independent"}},
    "bounds": "flush", "columns": 3, "spacing": {"row": 44, "column": 40},
    "title": {"text": "D", "subtitle": "\u200b\u00a0\u00a0\u00a0\u00a0\u00a0\u00a0\u00a0\u00a0Direct MHC I presentation\u00a0\u00a0\u00a0\u00a0\u00a0\u00a0\u00a0\u00a0\u00a0\u00a0\u00a0\u00a0\u00a0\u00a0\u00a0\u00a0\u00a0\u00a0\u00a0\u00a0Cross-presentation", "offset": 1},
    "concat": [
     {"width": 13, "height": 77, "data": {"name": "Z"}, "mark": {"type": "text", "text": ""}, "encoding": {}},
     {"width": 117, "height": 77,
      "title": {"text": ["Effector","OT-I T cells"], "orient": "left", "anchor": "middle", "frame": "group", "fontSize": 13.5, "fontWeight": "normal", "color": "#c8453a", "offset": 18, "lineHeight": 15, "dx": 8},
      "encoding": {"x": {"field": "x", "type": "ordinal", "sort": ["RAW UV","0.03:1","0.1:1","0.3:1","1:1"], "scale": {"type": "point", "domain": ["RAW UV","0.03:1","0.1:1","0.3:1","1:1"], "padding": 0.5}, "axis": {"title": null}},
       "y": {"field": "v", "type": "quantitative", "scale": {"domain": [0,50], "nice": false, "zero": false}, "axis": {"title": ["IFNγ⁺ CD8⁺ T cells","[%]"], "values": [0,10,20,30,40,50]}}},
      "layer": [
       {"data": {"name": "L"}, "transform": [{"filter": "datum.p == 'D11'"}], "mark": {"type": "errorbar", "ticks": {"size": 6}, "thickness": 1, "opacity": 0.55}, "encoding": {"yError": {"field": "e"}, "color": {"field": "s", "type": "nominal", "scale": {"domain": ["WT","KO"], "range": ["#526677","#c0392b"]}, "legend": null}}},
       {"data": {"name": "L"}, "transform": [{"filter": "datum.p == 'D11'"}], "mark": {"type": "line", "strokeWidth": 1}, "encoding": {"color": {"field": "s", "type": "nominal", "legend": null}}},
       {"data": {"name": "L"}, "transform": [{"filter": "datum.p == 'D11'"}], "mark": {"type": "point", "filled": true, "opacity": 1, "size": 28}, "encoding": {"color": {"field": "s", "type": "nominal", "legend": null}, "shape": {"field": "s", "type": "nominal", "scale": {"domain": ["WT","KO"], "range": ["circle","square"]}, "legend": null}}},
       {"data": {"name": "T"}, "transform": [{"filter": "datum.p == 'D11'"}], "mark": {"type": "text"}, "encoding": {"text": {"field": "t"}}},
       {"data": {"name": "G"}, "transform": [{"filter": "datum.p == 'D11'"}], "mark": {"type": "text", "align": "left", "dx": -9, "fontSize": 10.5}, "encoding": {"text": {"field": "t"}, "color": {"field": "s", "type": "nominal", "legend": null}}}
      ]},
     {"width": 118, "height": 77,
      "encoding": {"x": {"field": "x", "type": "ordinal", "sort": ["RAW UV","1:1","3:1","10:1"], "scale": {"type": "point", "domain": ["RAW UV","1:1","3:1","10:1"], "padding": 0.5}, "axis": {"title": null}},
       "y": {"field": "v", "type": "quantitative", "scale": {"domain": [0,8], "nice": false, "zero": false}, "axis": {"title": null, "values": [0,2,4,6,8]}}},
      "layer": [
       {"data": {"name": "L"}, "transform": [{"filter": "datum.p == 'D12'"}], "mark": {"type": "errorbar", "ticks": {"size": 6}, "thickness": 1, "opacity": 0.55}, "encoding": {"yError": {"field": "e"}, "color": {"field": "s", "type": "nominal", "scale": {"domain": ["WT","KO"], "range": ["#526677","#c0392b"]}, "legend": null}}},
       {"data": {"name": "L"}, "transform": [{"filter": "datum.p == 'D12'"}], "mark": {"type": "line", "strokeWidth": 1}, "encoding": {"color": {"field": "s", "type": "nominal", "legend": null}}},
       {"data": {"name": "L"}, "transform": [{"filter": "datum.p == 'D12'"}], "mark": {"type": "point", "filled": true, "opacity": 1, "size": 28}, "encoding": {"color": {"field": "s", "type": "nominal", "legend": null}, "shape": {"field": "s", "type": "nominal", "scale": {"domain": ["WT","KO"], "range": ["circle","square"]}, "legend": null}}},
       {"data": {"name": "T"}, "transform": [{"filter": "datum.p == 'D12'"}], "mark": {"type": "text"}, "encoding": {"text": {"field": "t"}}}
      ]},
     {"width": 13, "height": 77, "data": {"name": "Z"}, "mark": {"type": "text", "text": ""}, "encoding": {}},
     {"width": 117, "height": 77,
      "title": {"text": ["Effector","VACV-specific","T cells"], "orient": "left", "anchor": "middle", "frame": "group", "fontSize": 13.5, "fontWeight": "normal", "color": "#c8453a", "offset": 10, "lineHeight": 15, "dx": 15},
      "encoding": {"x": {"field": "x", "type": "ordinal", "sort": ["RAW UV","0.03:1","0.1:1","0.3:1","1:1"], "scale": {"type": "point", "domain": ["RAW UV","0.03:1","0.1:1","0.3:1","1:1"], "padding": 0.5}, "axis": {"title": "ratio RAW-VACV : DC", "titleFontSize": 10.5}},
       "y": {"field": "v", "type": "quantitative", "scale": {"domain": [0,30], "nice": false, "zero": false}, "axis": {"title": ["IFNγ⁺ CD8⁺ T cells","[%]"], "values": [0,10,20,30]}}},
      "layer": [
       {"data": {"name": "L"}, "transform": [{"filter": "datum.p == 'D21'"}], "mark": {"type": "errorbar", "ticks": {"size": 6}, "thickness": 1, "opacity": 0.55}, "encoding": {"yError": {"field": "e"}, "color": {"field": "s", "type": "nominal", "scale": {"domain": ["WT","KO"], "range": ["#526677","#c0392b"]}, "legend": null}}},
       {"data": {"name": "L"}, "transform": [{"filter": "datum.p == 'D21'"}], "mark": {"type": "line", "strokeWidth": 1}, "encoding": {"color": {"field": "s", "type": "nominal", "legend": null}}},
       {"data": {"name": "L"}, "transform": [{"filter": "datum.p == 'D21'"}], "mark": {"type": "point", "filled": true, "opacity": 1, "size": 28}, "encoding": {"color": {"field": "s", "type": "nominal", "legend": null}, "shape": {"field": "s", "type": "nominal", "scale": {"domain": ["WT","KO"], "range": ["circle","square"]}, "legend": null}}},
       {"data": {"name": "T"}, "transform": [{"filter": "datum.p == 'D21'"}], "mark": {"type": "text"}, "encoding": {"text": {"field": "t"}}}
      ]},
     {"width": 118, "height": 77,
      "encoding": {"x": {"field": "x", "type": "ordinal", "sort": ["RAW UV","1:1","3:1","10:1"], "scale": {"type": "point", "domain": ["RAW UV","1:1","3:1","10:1"], "padding": 0.5}, "axis": {"title": "ratio RAW-VACV-UV : DC", "titleFontSize": 10.5}},
       "y": {"field": "v", "type": "quantitative", "scale": {"domain": [0,15], "nice": false, "zero": false}, "axis": {"title": null, "values": [0,5,10,15]}}},
      "layer": [
       {"data": {"name": "L"}, "transform": [{"filter": "datum.p == 'D22'"}], "mark": {"type": "errorbar", "ticks": {"size": 6}, "thickness": 1, "opacity": 0.55}, "encoding": {"yError": {"field": "e"}, "color": {"field": "s", "type": "nominal", "scale": {"domain": ["WT","KO"], "range": ["#526677","#c0392b"]}, "legend": null}}},
       {"data": {"name": "L"}, "transform": [{"filter": "datum.p == 'D22'"}], "mark": {"type": "line", "strokeWidth": 1}, "encoding": {"color": {"field": "s", "type": "nominal", "legend": null}}},
       {"data": {"name": "L"}, "transform": [{"filter": "datum.p == 'D22'"}], "mark": {"type": "point", "filled": true, "opacity": 1, "size": 28}, "encoding": {"color": {"field": "s", "type": "nominal", "legend": null}, "shape": {"field": "s", "type": "nominal", "scale": {"domain": ["WT","KO"], "range": ["circle","square"]}, "legend": null}}},
       {"data": {"name": "T"}, "transform": [{"filter": "datum.p == 'D22'"}], "mark": {"type": "text"}, "encoding": {"text": {"field": "t"}}}
      ]}
    ]
   },
   {"resolve": {"scale": {"color": "independent", "shape": "independent"}, "legend": {"color": "independent", "shape": "independent"}},
    "bounds": "flush", "columns": 3, "spacing": {"row": 42, "column": 33},
    "title": {"text": "E", "subtitle": "\u200b\u00a0\u00a0\u00a0\u00a0\u00a0\u00a0\u00a0\u00a0\u00a0\u00a0MHC II presentation", "offset": 12},
    "concat": [
     {"width": 88, "height": 87,
      "encoding": {"x": {"field": "x", "type": "ordinal", "sort": ["0,01","0,03","0,1","0,3","1","3","10"], "scale": {"type": "point", "domain": ["0,01","0,03","0,1","0,3","1","3","10"], "padding": 0.6}, "axis": {"title": null, "labelFontSize": 6.5}},
       "y": {"field": "v", "type": "quantitative", "scale": {"domain": [0,80], "nice": false, "zero": false}, "axis": {"title": ["OT-II T cell activation","[% CD69⁺CD25⁺]"], "values": [0,20,40,60,80]}}},
      "layer": [
       {"data": {"name": "L"}, "transform": [{"filter": "datum.p == 'E11'"}], "mark": {"type": "errorbar", "ticks": {"size": 5}, "thickness": 1, "opacity": 0.55}, "encoding": {"yError": {"field": "e"}, "color": {"field": "s", "type": "nominal", "scale": {"domain": ["WT","KO"], "range": ["#526677","#c0392b"]}, "legend": null}}},
       {"data": {"name": "L"}, "transform": [{"filter": "datum.p == 'E11'"}], "mark": {"type": "line", "strokeWidth": 1}, "encoding": {"color": {"field": "s", "type": "nominal", "legend": null}}},
       {"data": {"name": "L"}, "transform": [{"filter": "datum.p == 'E11'"}], "mark": {"type": "point", "filled": true, "opacity": 1, "size": 22}, "encoding": {"color": {"field": "s", "type": "nominal", "legend": null}, "shape": {"field": "s", "type": "nominal", "scale": {"domain": ["WT","KO"], "range": ["circle","circle"]}, "legend": null}}},
       {"data": {"name": "T"}, "transform": [{"filter": "datum.p == 'E11'"}], "mark": {"type": "text"}, "encoding": {"text": {"field": "t"}}}
      ]},
     {"width": 88, "height": 87,
      "encoding": {"x": {"field": "x", "type": "ordinal", "sort": ["0,25","0,5","1","2"], "scale": {"type": "point", "domain": ["0,25","0,5","1","2"], "padding": 0.5}, "axis": {"title": null}},
       "y": {"field": "v", "type": "quantitative", "scale": {"domain": [20,60], "nice": false, "zero": false}, "axis": {"title": null, "values": [20,30,40,50,60]}}},
      "layer": [
       {"data": {"name": "L"}, "transform": [{"filter": "datum.p == 'E12'"}], "mark": {"type": "errorbar", "ticks": {"size": 5}, "thickness": 1, "opacity": 0.55}, "encoding": {"yError": {"field": "e"}, "color": {"field": "s", "type": "nominal", "scale": {"domain": ["WT","KO"], "range": ["#526677","#c0392b"]}, "legend": null}}},
       {"data": {"name": "L"}, "transform": [{"filter": "datum.p == 'E12'"}], "mark": {"type": "line", "strokeWidth": 1}, "encoding": {"color": {"field": "s", "type": "nominal", "legend": null}}},
       {"data": {"name": "L"}, "transform": [{"filter": "datum.p == 'E12'"}], "mark": {"type": "point", "filled": true, "opacity": 1, "size": 22}, "encoding": {"color": {"field": "s", "type": "nominal", "legend": null}, "shape": {"field": "s", "type": "nominal", "scale": {"domain": ["WT","KO"], "range": ["circle","circle"]}, "legend": null}}},
       {"data": {"name": "T"}, "transform": [{"filter": "datum.p == 'E12'"}], "mark": {"type": "text"}, "encoding": {"text": {"field": "t"}}},
       {"data": {"name": "G"}, "transform": [{"filter": "datum.p == 'E12'"}], "mark": {"type": "text", "align": "left", "dx": -1, "fontSize": 10.5}, "encoding": {"text": {"field": "t"}, "color": {"field": "s", "type": "nominal", "legend": null}}}
      ]},
     {"width": 86, "height": 87,
      "encoding": {"x": {"field": "x", "type": "ordinal", "sort": ["12,5%","25%","50%","100%"], "scale": {"type": "point", "domain": ["12,5%","25%","50%","100%"], "padding": 0.5}, "axis": {"title": null}},
       "y": {"field": "v", "type": "quantitative", "scale": {"domain": [20,80], "nice": false, "zero": false}, "axis": {"title": null, "values": [20,40,60,80]}}},
      "layer": [
       {"data": {"name": "L"}, "transform": [{"filter": "datum.p == 'E13'"}], "mark": {"type": "errorbar", "ticks": {"size": 5}, "thickness": 1, "opacity": 0.55}, "encoding": {"yError": {"field": "e"}, "color": {"field": "s", "type": "nominal", "scale": {"domain": ["WT","KO"], "range": ["#526677","#c0392b"]}, "legend": null}}},
       {"data": {"name": "L"}, "transform": [{"filter": "datum.p == 'E13'"}], "mark": {"type": "line", "strokeWidth": 1}, "encoding": {"color": {"field": "s", "type": "nominal", "legend": null}}},
       {"data": {"name": "L"}, "transform": [{"filter": "datum.p == 'E13'"}], "mark": {"type": "point", "filled": true, "opacity": 1, "size": 22}, "encoding": {"color": {"field": "s", "type": "nominal", "legend": null}, "shape": {"field": "s", "type": "nominal", "scale": {"domain": ["WT","KO"], "range": ["circle","circle"]}, "legend": null}}},
       {"data": {"name": "T"}, "transform": [{"filter": "datum.p == 'E13'"}], "mark": {"type": "text"}, "encoding": {"text": {"field": "t"}}}
      ]},
     {"width": 88, "height": 88,
      "encoding": {"x": {"field": "x", "type": "ordinal", "sort": ["0,001","0,01","0,1","1"], "scale": {"type": "point", "domain": ["0,001","0,01","0,1","1"], "padding": 0.5}, "axis": {"title": "MHC II peptide [µg/ml]", "labelFontSize": 7}},
       "y": {"field": "v", "type": "quantitative", "scale": {"domain": [0,100], "nice": false, "zero": false}, "axis": {"title": ["OT-II proliferation","[% CFSE neg.]"], "values": [0,20,40,60,80,100]}}},
      "layer": [
       {"data": {"name": "L"}, "transform": [{"filter": "datum.p == 'E21'"}], "mark": {"type": "errorbar", "ticks": {"size": 5}, "thickness": 1, "opacity": 0.55}, "encoding": {"yError": {"field": "e"}, "color": {"field": "s", "type": "nominal", "scale": {"domain": ["WT","KO"], "range": ["#526677","#c0392b"]}, "legend": null}}},
       {"data": {"name": "L"}, "transform": [{"filter": "datum.p == 'E21'"}], "mark": {"type": "line", "strokeWidth": 1}, "encoding": {"color": {"field": "s", "type": "nominal", "legend": null}}},
       {"data": {"name": "L"}, "transform": [{"filter": "datum.p == 'E21'"}], "mark": {"type": "point", "filled": true, "opacity": 1, "size": 22}, "encoding": {"color": {"field": "s", "type": "nominal", "legend": null}, "shape": {"field": "s", "type": "nominal", "scale": {"domain": ["WT","KO"], "range": ["circle","square"]}, "legend": null}}},
       {"data": {"name": "T"}, "transform": [{"filter": "datum.p == 'E21'"}], "mark": {"type": "text"}, "encoding": {"text": {"field": "t"}}}
      ]},
     {"width": 88, "height": 88,
      "encoding": {"x": {"field": "x", "type": "ordinal", "sort": ["0,25","0,5","1","2"], "scale": {"type": "point", "domain": ["0,25","0,5","1","2"], "padding": 0.5}, "axis": {"title": "sOVA [mg/ml]"}},
       "y": {"field": "v", "type": "quantitative", "scale": {"domain": [20,100], "nice": false, "zero": false}, "axis": {"title": null, "values": [20,40,60,80,100]}}},
      "layer": [
       {"data": {"name": "L"}, "transform": [{"filter": "datum.p == 'E22'"}], "mark": {"type": "errorbar", "ticks": {"size": 5}, "thickness": 1, "opacity": 0.55}, "encoding": {"yError": {"field": "e"}, "color": {"field": "s", "type": "nominal", "scale": {"domain": ["WT","KO"], "range": ["#526677","#c0392b"]}, "legend": null}}},
       {"data": {"name": "L"}, "transform": [{"filter": "datum.p == 'E22'"}], "mark": {"type": "line", "strokeWidth": 1}, "encoding": {"color": {"field": "s", "type": "nominal", "legend": null}}},
       {"data": {"name": "L"}, "transform": [{"filter": "datum.p == 'E22'"}], "mark": {"type": "point", "filled": true, "opacity": 1, "size": 22}, "encoding": {"color": {"field": "s", "type": "nominal", "legend": null}, "shape": {"field": "s", "type": "nominal", "scale": {"domain": ["WT","KO"], "range": ["circle","circle"]}, "legend": null}}},
       {"data": {"name": "T"}, "transform": [{"filter": "datum.p == 'E22'"}], "mark": {"type": "text"}, "encoding": {"text": {"field": "t"}}}
      ]},
     {"width": 86, "height": 88,
      "encoding": {"x": {"field": "x", "type": "ordinal", "sort": ["12,5%","25%","50%","100%"], "scale": {"type": "point", "domain": ["12,5%","25%","50%","100%"], "padding": 0.5}, "axis": {"title": "bbOVA", "labelFontSize": 7}},
       "y": {"field": "v", "type": "quantitative", "scale": {"domain": [50,100], "nice": false, "zero": false}, "axis": {"title": null, "values": [50,60,70,80,90,100]}}},
      "layer": [
       {"data": {"name": "L"}, "transform": [{"filter": "datum.p == 'E23'"}], "mark": {"type": "errorbar", "ticks": {"size": 5}, "thickness": 1, "opacity": 0.55}, "encoding": {"yError": {"field": "e"}, "color": {"field": "s", "type": "nominal", "scale": {"domain": ["WT","KO"], "range": ["#526677","#c0392b"]}, "legend": null}}},
       {"data": {"name": "L"}, "transform": [{"filter": "datum.p == 'E23'"}], "mark": {"type": "line", "strokeWidth": 1}, "encoding": {"color": {"field": "s", "type": "nominal", "legend": null}}},
       {"data": {"name": "L"}, "transform": [{"filter": "datum.p == 'E23'"}], "mark": {"type": "point", "filled": true, "opacity": 1, "size": 22}, "encoding": {"color": {"field": "s", "type": "nominal", "legend": null}, "shape": {"field": "s", "type": "nominal", "scale": {"domain": ["WT","KO"], "range": ["circle","circle"]}, "legend": null}}},
       {"data": {"name": "T"}, "transform": [{"filter": "datum.p == 'E23'"}], "mark": {"type": "text"}, "encoding": {"text": {"field": "t"}}}
      ]}
    ]
   }
  ]
 }
]
}
